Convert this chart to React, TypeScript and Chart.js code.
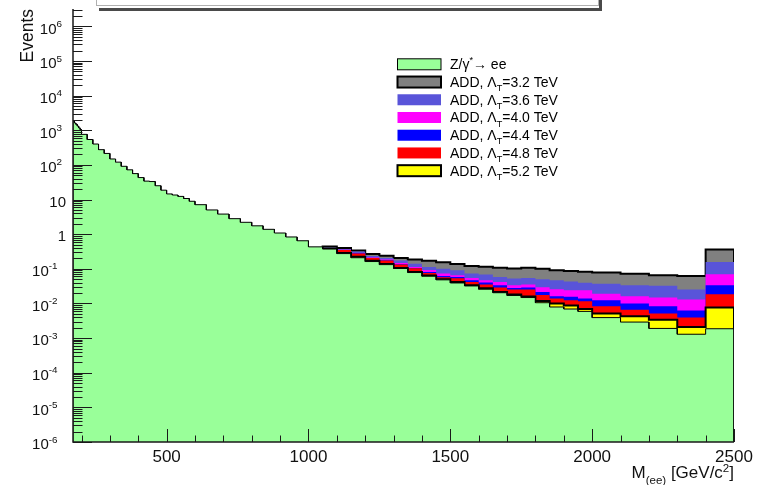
import React, { useEffect, useRef } from 'react';
import { Chart, registerables } from 'chart.js';

Chart.register(...registerables);

const FONT = '"Liberation Sans", Arial, Helvetica, sans-serif';

// ---- axis ranges / ticks ----
const X_MIN = 170;
const X_MAX = 2500;
const Y_MIN = 1e-6;
const Y_MAX = Math.pow(10, 6.5);
const xTickLabels = [500, 1000, 1500, 2000, 2500];
const yTickExps = [-6, -5, -4, -3, -2, -1, 0, 1, 2, 3, 4, 5, 6];

// ---- Z/gamma* -> ee background (variable bin edges, GeV/c^2) ----
const zEdges = [
  170, 175, 180, 185, 190, 195, 200,
  220, 240, 260, 280, 300, 320, 340, 360, 380, 400, 420, 440, 460, 480, 500, 520, 540, 560, 580, 600,
  640, 680, 720, 760, 800, 840, 880, 920, 960, 1000,
  1050, 1100, 1150, 1200, 1250, 1300, 1350, 1400, 1450, 1500, 1550, 1600, 1650, 1700, 1750, 1800, 1850, 1900, 1950, 2000,
  2100, 2200, 2300, 2400, 2500,
];
const zValues = [
  1860, 1620, 1480, 1320, 1170, 1050,
  760, 540, 400, 275, 214, 148, 120, 91, 72, 56, 43, 34, 33, 25, 18.6, 14.5, 13.5, 12.3, 10.7, 8.9,
  7.1, 5.0, 3.8, 2.8, 2.2, 1.74, 1.38, 1.08, 0.83, 0.645,
  0.43, 0.372, 0.275, 0.209, 0.162, 0.132, 0.102, 0.078, 0.061, 0.048, 0.039, 0.032, 0.0257, 0.0204, 0.017, 0.0148, 0.0105, 0.0079, 0.0069, 0.0059,
  0.0039, 0.0029, 0.0019, 0.00129, 0.00186,
];

// ---- ADD signal + background totals ----
const addEdges = [
  1050, 1100, 1150, 1200, 1250, 1300, 1350, 1400, 1450, 1500, 1550, 1600, 1650, 1700, 1750, 1800, 1850, 1900, 1950, 2000,
  2100, 2200, 2300, 2400, 2500,
];
const add32 = [0.437, 0.398, 0.339, 0.269, 0.240, 0.204, 0.186, 0.170, 0.155, 0.138, 0.120, 0.115, 0.107, 0.102, 0.108, 0.100, 0.0912, 0.0871, 0.0822, 0.0776, 0.0724, 0.0646, 0.0617, 0.359];
const add36 = [0.407, 0.372, 0.316, 0.234, 0.206, 0.173, 0.141, 0.113, 0.101, 0.0908, 0.0728, 0.0681, 0.0582, 0.0521, 0.0545, 0.0501, 0.0468, 0.0427, 0.0398, 0.0372, 0.0335, 0.0324, 0.0251, 0.158];
const add40 = [0.389, 0.353, 0.283, 0.211, 0.185, 0.148, 0.113, 0.0927, 0.0728, 0.0652, 0.0545, 0.0467, 0.0418, 0.0335, 0.0350, 0.0295, 0.0257, 0.0240, 0.0240, 0.0191, 0.0162, 0.0148, 0.0129, 0.0695];
const add44 = [0.388, 0.351, 0.279, 0.206, 0.177, 0.135, 0.106, 0.0813, 0.0622, 0.0582, 0.0467, 0.0400, 0.0335, 0.0281, 0.0287, 0.0214, 0.0162, 0.0155, 0.0138, 0.0123, 0.0100, 0.0083, 0.0063, 0.0335];
const add48 = [0.385, 0.348, 0.275, 0.204, 0.173, 0.132, 0.104, 0.0760, 0.0570, 0.0533, 0.0418, 0.0350, 0.0287, 0.0251, 0.0251, 0.0174, 0.0138, 0.0123, 0.0115, 0.0083, 0.0066, 0.0051, 0.0039, 0.0184];
const add52 = [0.380, 0.288, 0.224, 0.170, 0.138, 0.106, 0.0813, 0.0637, 0.0501, 0.0418, 0.0335, 0.0274, 0.0215, 0.0180, 0.0158, 0.0117, 0.0100, 0.0087, 0.0069, 0.0051, 0.0043, 0.0034, 0.0021, 0.0076];

type Series = { label: string; edges: number[]; values: number[]; fill: string; line: string; lw: number; order: number };
const series: Series[] = [
  { label: 'Z/γ^{*}→ ee', edges: zEdges, values: zValues, fill: '#99ff99', line: '#000000', lw: 1, order: 0 },
  { label: 'ADD, Λ_{T}=3.2 TeV', edges: addEdges, values: add32, fill: '#808080', line: '#000000', lw: 2, order: 6 },
  { label: 'ADD, Λ_{T}=3.6 TeV', edges: addEdges, values: add36, fill: '#5954d9', line: 'rgba(0,0,0,0)', lw: 1, order: 5 },
  { label: 'ADD, Λ_{T}=4.0 TeV', edges: addEdges, values: add40, fill: '#ff00ff', line: 'rgba(0,0,0,0)', lw: 1, order: 4 },
  { label: 'ADD, Λ_{T}=4.4 TeV', edges: addEdges, values: add44, fill: '#0000ff', line: 'rgba(0,0,0,0)', lw: 1, order: 3 },
  { label: 'ADD, Λ_{T}=4.8 TeV', edges: addEdges, values: add48, fill: '#ff0000', line: 'rgba(0,0,0,0)', lw: 1, order: 2 },
  { label: 'ADD, Λ_{T}=5.2 TeV', edges: addEdges, values: add52, fill: '#ffff00', line: '#000000', lw: 2, order: 1 },
];

function histPoints(edges: number[], values: number[]) {
  const pts: { x: number; y: number }[] = [{ x: edges[0], y: Y_MIN }];
  values.forEach((v, i) => {
    pts.push({ x: edges[i], y: v });
    pts.push({ x: edges[i + 1], y: v });
  });
  pts.push({ x: edges[edges.length - 1], y: Y_MIN });
  return pts;
}

type Seg = { t: string; k: number };
function parseRich(s: string): Seg[] {
  const out: Seg[] = [];
  let buf = '';
  for (let i = 0; i < s.length; i++) {
    const c = s[i];
    if ((c === '_' || c === '^') && i + 1 < s.length) {
      if (buf) { out.push({ t: buf, k: 0 }); buf = ''; }
      let t: string;
      if (s[i + 1] === '{') {
        const e = s.indexOf('}', i + 1);
        t = s.slice(i + 2, e);
        i = e;
      } else {
        t = s[i + 1];
        i = i + 1;
      }
      out.push({ t, k: c === '^' ? 1 : -1 });
    } else buf += c;
  }
  if (buf) out.push({ t: buf, k: 0 });
  return out;
}

function drawRich(ctx: CanvasRenderingContext2D, s: string, x: number, y: number, size: number, align: string, supRaise = 0.44, subDrop = 0.3, ratio = 0.68) {
  const segs = parseRich(s);
  const small = size * ratio;
  const widths = segs.map((sg) => {
    ctx.font = `${sg.k ? small : size}px ${FONT}`;
    return ctx.measureText(sg.t).width;
  });
  const total = widths.reduce((a, b) => a + b, 0);
  let cx = align === 'right' ? x - total : align === 'center' ? x - total / 2 : x;
  ctx.textAlign = 'left';
  ctx.textBaseline = 'alphabetic';
  segs.forEach((sg, i) => {
    ctx.font = `${sg.k ? small : size}px ${FONT}`;
    const dy = sg.k === 1 ? -size * supRaise : sg.k === -1 ? size * subDrop : 0;
    ctx.fillText(sg.t, cx, y + dy);
    cx += widths[i];
  });
}

const rootDecor = {
  id: 'rootDecor',
  afterDraw(chart: any) {
    const ctx: CanvasRenderingContext2D = chart.ctx;
    const xs = chart.scales.x;
    const ys = chart.scales.y;
    const a = chart.chartArea;
    ctx.save();
    ctx.strokeStyle = '#1a1a1a';
    ctx.fillStyle = '#111';

    // y ticks (inward)
    ctx.lineWidth = 1;
    for (const e of yTickExps) {
      for (let m = 1; m <= 9; m++) {
        const v = m * Math.pow(10, e);
        if (v > Y_MAX * 1.0001) break;
        const y = Math.round(ys.getPixelForValue(v)) + 0.5;
        const len = m === 1 ? 19 : 9.5;
        ctx.beginPath();
        ctx.moveTo(a.left, y);
        ctx.lineTo(a.left + len, y);
        ctx.stroke();
      }
    }
    // x ticks (inward)
    for (let v = 200; v <= X_MAX; v += 100) {
      const x = Math.round(xs.getPixelForValue(v)) + 0.5;
      const len = v % 500 === 0 ? 13 : 6.5;
      ctx.beginPath();
      ctx.moveTo(x, a.bottom);
      ctx.lineTo(x, a.bottom - len);
      ctx.stroke();
    }
    // axis lines
    ctx.lineWidth = 1.5;
    ctx.beginPath();
    ctx.moveTo(a.left, a.top);
    ctx.lineTo(a.left, a.bottom);
    ctx.lineTo(a.right, a.bottom);
    ctx.stroke();

    // y labels
    for (const e of yTickExps) {
      const y = ys.getPixelForValue(Math.pow(10, e));
      const txt = e === 0 ? '1' : e === 1 ? '10' : `10^{${e}}`;
      const right = e === 0 || e === 1 ? 66 : e > 0 ? 62 : 57.5;
      drawRich(ctx, txt, right, y + 7.3, 15, 'right', 0.45, 0.3, 0.66);
    }
    // x labels
    ctx.font = `17px ${FONT}`;
    ctx.textAlign = 'center';
    ctx.textBaseline = 'alphabetic';
    for (const v of xTickLabels) {
      ctx.fillText(String(v), xs.getPixelForValue(v), 461.5);
    }
    // axis titles
    drawRich(ctx, 'M_{(ee)} [GeV/c^{2}]', a.right, 478, 17, 'right', 0.36, 0.33, 0.68);
    ctx.save();
    ctx.translate(33, a.top);
    ctx.rotate(-Math.PI / 2);
    ctx.font = `17.5px ${FONT}`;
    ctx.textAlign = 'right';
    ctx.textBaseline = 'alphabetic';
    ctx.fillText('Events', 0, 0);
    ctx.restore();

    // legend
    const rowY0 = 64.3;
    const rowH = 17.73;
    series.forEach((s, i) => {
      const cy = rowY0 + i * rowH;
      const bx = 397.5, bw = 43.5, bh = 11;
      ctx.fillStyle = s.fill;
      ctx.fillRect(bx, cy - bh / 2, bw, bh);
      if (s.line !== 'rgba(0,0,0,0)') {
        ctx.strokeStyle = '#000';
        ctx.lineWidth = s.lw === 2 ? 2 : 1;
        ctx.strokeRect(bx, cy - bh / 2, bw, bh);
      }
      ctx.fillStyle = '#000';
      drawRich(ctx, s.label, 450, cy + 5, 14, 'left', 0.42, 0.3, 0.65);
    });

    // title pave (partly out of canvas)
    ctx.fillStyle = '#4a4a4a';
    ctx.fillRect(99, 0, 503, 11);
    ctx.fillStyle = '#ffffff';
    ctx.fillRect(96, 0, 503, 8);
    ctx.strokeStyle = '#b0b0b0';
    ctx.lineWidth = 1;
    ctx.strokeRect(96.5, -2, 502, 7.5);
    ctx.restore();
  },
};

export default function App() {
  const ref = useRef<HTMLCanvasElement>(null);
  useEffect(() => {
    if (!ref.current) return;
    const chart = new Chart(ref.current, {
      type: 'line',
      data: {
        datasets: series.map((s) => ({
          label: s.label,
          data: histPoints(s.edges, s.values),
          backgroundColor: s.fill,
          borderColor: s.line,
          borderWidth: s.lw,
          fill: 'start',
          pointRadius: 0,
          tension: 0,
          borderJoinStyle: 'miter' as const,
          borderCapStyle: 'butt' as const,
          order: s.order,
        })),
      },
      options: {
        responsive: false,
        animation: false,
        devicePixelRatio: 1,
        layout: { padding: { left: 73, right: 29, top: 9, bottom: 43 } },
        plugins: { legend: { display: false }, tooltip: { enabled: false }, title: { display: false } },
        scales: {
          x: { type: 'linear', min: X_MIN, max: X_MAX, display: false },
          y: { type: 'logarithmic', min: Y_MIN, max: Y_MAX, display: false },
        },
      },
      plugins: [rootDecor],
    });
    return () => chart.destroy();
  }, []);
  return (
    <div style={{ position: 'absolute', left: 0, top: 0, width: 763, height: 485, background: '#fff' }}>
      <canvas ref={ref} width={763} height={485} />
    </div>
  );
}
